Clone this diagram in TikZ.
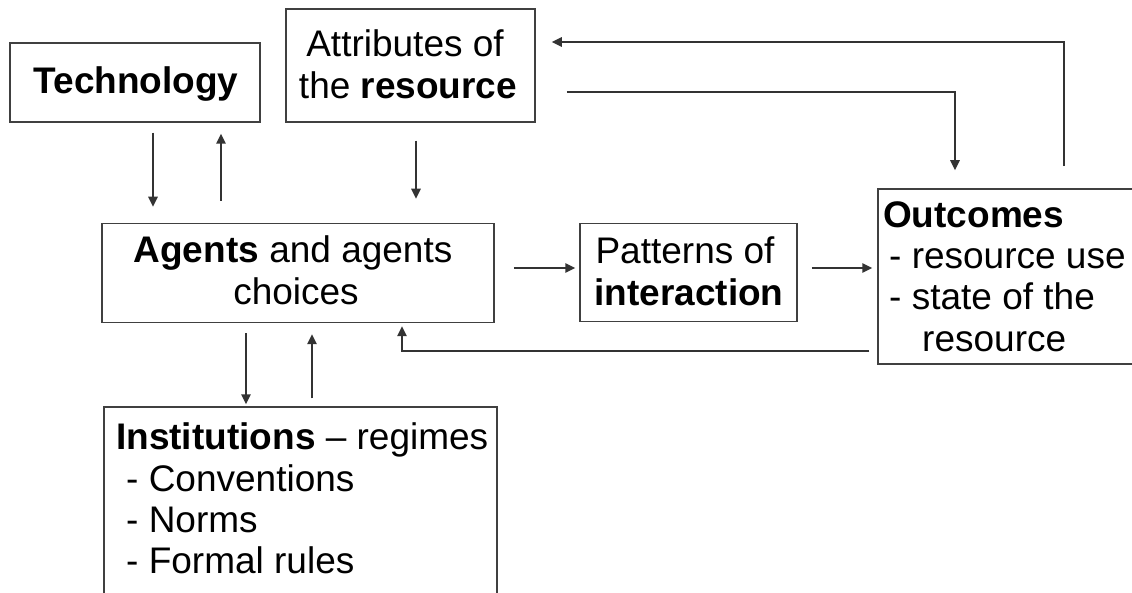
\documentclass[tikz,border=0pt]{standalone}
\usepackage{fontspec}
\setmainfont{Liberation Sans}
\usetikzlibrary{arrows.meta}
\begin{document}
\begin{tikzpicture}[x=1pt,y=-1pt,
  box/.style={draw=black!75, line width=1.5pt, inner sep=0pt},
  txt/.style={inner sep=0pt, font=\fontsize{37}{42}\selectfont},
  arr/.style={draw=black!80, line width=1.6pt, -{Triangle[length=10pt,width=9.5pt]}}]
\useasboundingbox (0,0) rectangle (1132,593);
\fill[white] (0,0) rectangle (1132,593);
\clip (0,0) rectangle (1132,593);
% boxes
\node[box, minimum width=250pt, minimum height=79pt] (tech) at (135,82.5) {};
\node[box, minimum width=249pt, minimum height=113pt] (attr) at (410.5,65.5) {};
\node[box, minimum width=392pt, minimum height=99pt] (agents) at (298,273) {};
\node[box, minimum width=217pt, minimum height=98pt] (patt) at (688.5,272.5) {};
\node[box, minimum width=267pt, minimum height=175pt] (outc) at (1011.5,276.5) {};
\node[box, minimum width=393pt, minimum height=213pt] (inst) at (300.5,513.5) {};
% texts
\node[txt, anchor=base] (t1) at (136,94) {\bfseries Technology};
\node[txt, anchor=base] (r1) at (405,57) {Attributes of};
\node[txt, anchor=base] (r2) at (408,99) {the \bfseries resource};
\node[txt, anchor=base] (g1) at (293,263) {\textbf{Agents} and agents};
\node[txt, anchor=base] (g2) at (296,305) {choices};
\node[txt, anchor=base] (p1) at (685,264) {Patterns of};
\node[txt, anchor=base] (p2) at (689,306) {\bfseries interaction};
\node[txt, anchor=base west] (o1) at (883,228) {\bfseries Outcomes};
\node[txt, anchor=base west] (o2) at (889,269) {- resource use};
\node[txt, anchor=base west] (o3) at (889,310) {- state of the};
\node[txt, anchor=base west] (o4) at (922,352) {resource};
\node[txt, anchor=base west] (i1) at (116,449) {\textbf{Institutions} -- regimes};
\node[txt, anchor=base west] (i2) at (126,491) {- Conventions};
\node[txt, anchor=base west] (i3) at (126,532) {- Norms};
\node[txt, anchor=base west] (i4) at (126,573) {- Formal rules};
% connectors
\draw[arr, shorten <=10pt, shorten >=16pt] ([xshift=18pt]tech.south) -- ([xshift=18pt]tech.south |- agents.north);
\draw[arr, shorten <=22pt, shorten >=11pt] ([xshift=86pt]tech.south |- agents.north) -- ([xshift=86pt]tech.south);
\draw[arr, shorten <=18pt, shorten >=24pt] ([xshift=5.5pt]attr.south) -- ([xshift=5.5pt]attr.south |- agents.north);
\draw[arr, shorten <=19pt, shorten >=4pt] ([yshift=5pt]agents.east) -- ([yshift=5pt]agents.east -| patt.west);
\draw[arr, shorten <=14pt, shorten >=5pt] ([yshift=4.5pt]patt.east) -- ([yshift=4.5pt]patt.east -| outc.west);
\draw[arr, shorten <=31pt, shorten >=18pt] ([yshift=-26.5pt]attr.east) -| ([xshift=-56.5pt]outc.north);
\draw[arr, shorten <=22pt, shorten >=16pt] ([xshift=52.5pt]outc.north) |- ([yshift=23.5pt]attr.east);
\draw[arr, shorten <=8pt, shorten >=3pt] ([yshift=-74.5pt]outc.west) -| ([xshift=104pt]agents.south);
\draw[arr, shorten <=10pt, shorten >=2pt] ([xshift=-52pt]agents.south) -- ([xshift=-52pt]agents.south |- inst.north);
\draw[arr, shorten <=8pt, shorten >=11pt] ([xshift=14pt]agents.south |- inst.north) -- ([xshift=14pt]agents.south);
\end{tikzpicture}
\end{document}
